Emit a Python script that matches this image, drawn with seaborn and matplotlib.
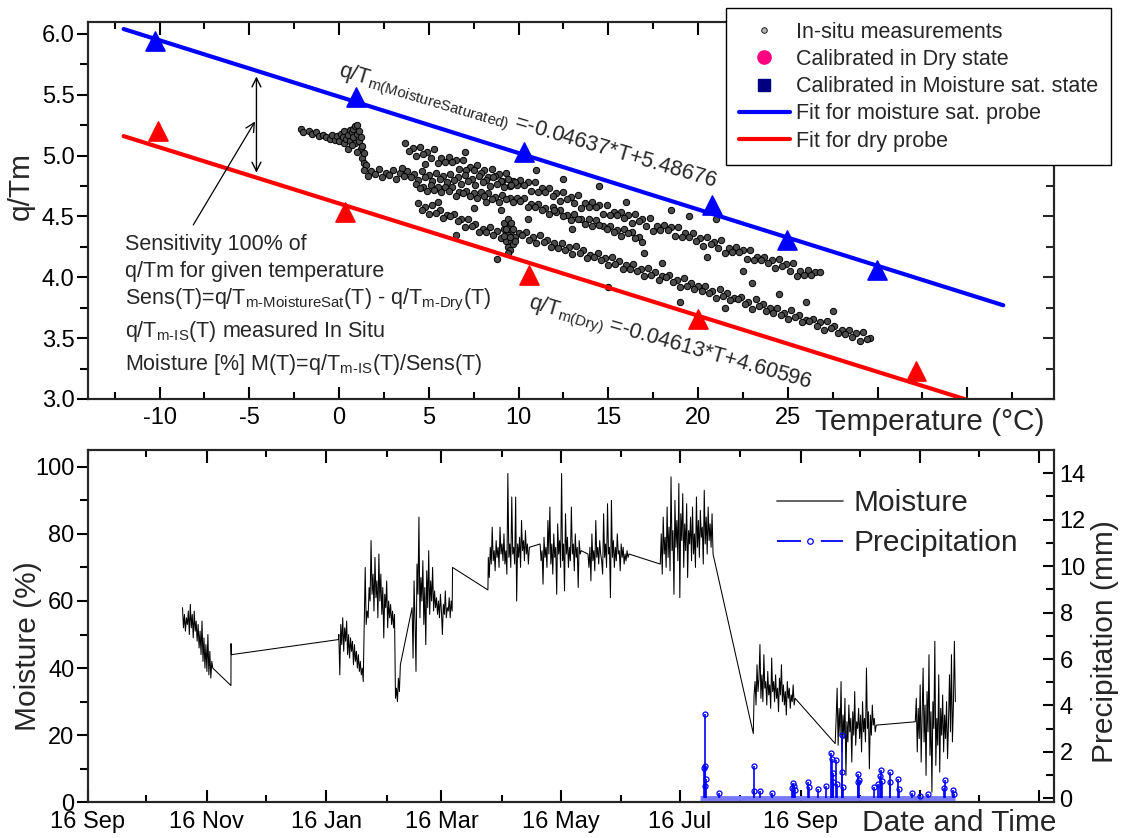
import numpy as np
import pandas as pd
import matplotlib
matplotlib.use('Agg')
import matplotlib.pyplot as plt
from matplotlib.lines import Line2D
import seaborn as sns

# ---------------- top panel: q/Tm against temperature ----------------
# in-situ measurements, read off the picture band by band
clusterA_T = [-2.1, -2.0, -1.7, -1.5, -1.3, -1.1, -0.9, -0.7, -0.5, -0.4, -0.2, -0.1, 0.0, 0.1, 0.2, 0.3, 0.3, 0.4, 0.5, 0.5,
              0.6, 0.6, 0.7, 0.8, 0.8, 0.9, 0.9, 1.0, 1.0, 1.1, 1.1, 1.2, 1.2, 1.3, 1.3, 1.4, 1.4, 1.5, 1.0, 0.7]
clusterA_q = [5.22, 5.19, 5.20, 5.18, 5.19, 5.16, 5.17, 5.15, 5.14, 5.17, 5.13, 5.16, 5.12, 5.18, 5.15, 5.10, 5.20, 5.14, 5.17, 5.05,
              5.21, 5.12, 5.19, 5.22, 5.15, 5.24, 5.10, 5.25, 5.18, 5.20, 5.12, 5.15, 5.05, 5.08, 4.98, 5.02, 4.94, 4.92, 5.03, 5.09]

band1a_T = [3.7, 4.1, 4.5, 4.9, 5.3, 5.7, 6.1, 6.5, 6.9, 7.3, 7.7, 8.1, 8.5, 8.9, 9.3, 9.7, 10.1, 10.5, 10.9, 11.3,
            11.7, 12.1, 12.5, 12.9, 13.3, 13.7, 14.1, 14.5, 14.9, 15.3, 15.7, 16.1, 16.5, 16.9, 17.3, 17.7, 18.1, 18.5, 18.9, 19.3,
            19.7, 20.1, 20.5, 20.9, 21.3, 21.7, 22.1, 22.5, 22.9, 23.3, 23.7, 24.1, 24.5, 24.9, 25.3, 25.7, 26.1, 26.5, 26.8]
band1a_q = [5.10, 5.06, 5.07, 5.03, 5.05, 4.98, 4.99, 4.96, 4.96, 4.91, 4.92, 4.88, 4.89, 4.85, 4.86, 4.79, 4.80, 4.78, 4.78, 4.73,
            4.73, 4.69, 4.70, 4.66, 4.68, 4.61, 4.62, 4.59, 4.59, 4.54, 4.54, 4.51, 4.52, 4.48, 4.49, 4.42, 4.43, 4.41, 4.41, 4.36,
            4.36, 4.32, 4.33, 4.29, 4.31, 4.24, 4.25, 4.22, 4.22, 4.17, 4.17, 4.14, 4.15, 4.11, 4.12, 4.05, 4.06, 4.04, 4.04]
band1b_T = [3.9, 4.3, 4.7, 5.1, 5.5, 5.9, 6.3, 6.7, 7.1, 7.5, 7.9, 8.3, 8.7, 9.1, 9.5, 9.9, 10.3, 10.7, 11.1, 11.5,
            11.9, 12.3, 12.7, 13.1, 13.5, 13.9, 14.3, 14.7, 15.1, 15.5, 15.9, 16.3, 16.7, 17.1, 17.5, 17.9, 18.3, 18.7, 19.1, 19.5,
            19.9, 20.3, 20.7, 21.1, 21.5, 21.9, 22.3, 22.7, 23.1, 23.5, 23.9, 24.3, 24.7, 25.1, 25.5, 25.9, 26.3]
band1b_q = [5.04, 5.00, 5.01, 4.98, 4.94, 4.95, 4.95, 4.89, 4.88, 4.88, 4.86, 4.82, 4.83, 4.79, 4.75, 4.76, 4.76, 4.71, 4.70, 4.70,
            4.67, 4.63, 4.64, 4.61, 4.57, 4.58, 4.58, 4.52, 4.51, 4.51, 4.49, 4.45, 4.46, 4.42, 4.38, 4.39, 4.39, 4.34, 4.33, 4.33,
            4.30, 4.26, 4.27, 4.24, 4.20, 4.21, 4.21, 4.15, 4.14, 4.14, 4.12, 4.08, 4.09, 4.05, 4.01, 4.02, 4.02]

band2a_T = [1.4, 1.8, 2.2, 2.6, 3.0, 3.4, 3.8, 4.2, 4.6, 5.0, 5.4, 5.8, 6.2, 6.6, 7.0, 7.4, 7.8, 8.2, 8.6, 9.0, 9.4, 9.8]
band2a_q = [4.88, 4.87, 4.89, 4.86, 4.88, 4.86, 4.87, 4.85, 4.87, 4.84, 4.86, 4.83, 4.85, 4.82, 4.84, 4.81, 4.83, 4.80, 4.82, 4.79, 4.81, 4.78]
band2b_T = [1.6, 2.0, 2.4, 2.8, 3.2, 3.6, 4.0, 4.4, 4.8, 5.2, 5.6, 6.0, 6.4, 6.8, 7.2, 7.6, 8.0, 8.4, 8.8, 9.2, 9.6]
band2b_q = [4.83, 4.85, 4.82, 4.84, 4.81, 4.83, 4.82, 4.80, 4.82, 4.79, 4.81, 4.78, 4.80, 4.77, 4.79, 4.76, 4.78, 4.75, 4.77, 4.74, 4.76]

band3a_T = [4.3, 4.7, 5.1, 5.5, 5.9, 6.3, 6.7, 7.1, 7.5, 7.9, 8.3, 8.7, 9.1, 9.5, 9.9, 10.3, 10.7, 11.1, 11.5, 11.9,
            12.3, 12.7, 13.1, 13.5, 13.9, 14.3, 14.7, 15.1, 15.5, 15.9, 16.3, 16.7]
band3a_q = [4.77, 4.74, 4.76, 4.74, 4.74, 4.74, 4.70, 4.71, 4.69, 4.70, 4.69, 4.66, 4.68, 4.65, 4.65, 4.65, 4.60, 4.60, 4.57, 4.58,
            4.55, 4.51, 4.52, 4.48, 4.48, 4.47, 4.42, 4.42, 4.39, 4.40, 4.37, 4.33]
band3b_T = [4.5, 4.9, 5.3, 5.7, 6.1, 6.5, 6.9, 7.3, 7.7, 8.1, 8.5, 8.9, 9.3, 9.7, 10.1, 10.5, 10.9, 11.3, 11.7, 12.1,
            12.5, 12.9, 13.3, 13.7, 14.1, 14.5, 14.9, 15.3, 15.7, 16.1, 16.5, 16.9]
band3b_q = [4.73, 4.71, 4.72, 4.70, 4.71, 4.67, 4.69, 4.67, 4.65, 4.67, 4.64, 4.62, 4.64, 4.62, 4.63, 4.58, 4.58, 4.55, 4.52, 4.54,
            4.50, 4.47, 4.48, 4.44, 4.42, 4.43, 4.40, 4.37, 4.34, 4.36, 4.32, 4.29]

band4a_T = [4.4, 4.8, 5.2, 5.6, 6.0, 6.4, 6.8, 7.2, 7.6, 8.0, 8.4, 8.8, 9.2, 9.6, 10.0, 10.4, 10.8, 11.2, 11.6, 12.0,
            12.4, 12.8, 13.2, 13.6, 14.0, 14.4, 14.8, 15.2, 15.6, 16.0, 16.4, 16.8, 17.2, 17.6, 18.0, 18.4, 18.8, 19.2, 19.6, 20.0,
            20.4, 20.8, 21.2, 21.6, 22.0, 22.4, 22.8, 23.2, 23.6, 24.0, 24.4, 24.8, 25.2, 25.6, 26.0, 26.4, 26.8, 27.2, 27.6, 28.0,
            28.4, 28.8, 29.2, 29.6]
band4a_q = [4.61, 4.58, 4.59, 4.55, 4.51, 4.52, 4.48, 4.48, 4.44, 4.40, 4.41, 4.38, 4.40, 4.38, 4.36, 4.37, 4.33, 4.35, 4.31, 4.28,
            4.28, 4.25, 4.26, 4.22, 4.18, 4.20, 4.16, 4.17, 4.13, 4.10, 4.11, 4.07, 4.08, 4.04, 4.01, 4.02, 3.98, 3.99, 3.95, 3.93,
            3.93, 3.89, 3.90, 3.87, 3.83, 3.84, 3.80, 3.82, 3.78, 3.75, 3.75, 3.71, 3.73, 3.69, 3.65, 3.66, 3.63, 3.64, 3.60, 3.57,
            3.57, 3.54, 3.55, 3.50]
band4b_T = [4.6, 5.0, 5.4, 5.8, 6.2, 6.6, 7.0, 7.4, 7.8, 8.2, 8.6, 9.0, 9.4, 9.8, 10.2, 10.6, 11.0, 11.4, 11.8, 12.2,
            12.6, 13.0, 13.4, 13.8, 14.2, 14.6, 15.0, 15.4, 15.8, 16.2, 16.6, 17.0, 17.4, 17.8, 18.2, 18.6, 19.0, 19.4, 19.8, 20.2,
            20.6, 21.0, 21.4, 21.8, 22.2, 22.6, 23.0, 23.4, 23.8, 24.2, 24.6, 25.0, 25.4, 25.8, 26.2, 26.6, 27.0, 27.4, 27.8, 28.2,
            28.6, 29.0, 29.4]
band4b_q = [4.55, 4.52, 4.53, 4.49, 4.50, 4.46, 4.41, 4.42, 4.37, 4.37, 4.35, 4.32, 4.35, 4.33, 4.35, 4.31, 4.28, 4.29, 4.25, 4.24,
            4.22, 4.19, 4.20, 4.16, 4.17, 4.14, 4.10, 4.11, 4.07, 4.07, 4.05, 4.01, 4.02, 3.98, 4.00, 3.96, 3.92, 3.93, 3.90, 3.89,
            3.87, 3.83, 3.85, 3.81, 3.82, 3.78, 3.74, 3.76, 3.72, 3.71, 3.69, 3.66, 3.67, 3.63, 3.64, 3.60, 3.57, 3.58, 3.54, 3.53,
            3.51, 3.48, 3.49]
blob_T = [9.2, 9.3, 9.4, 9.5, 9.5, 9.6, 9.4, 9.7, 9.3, 9.6, 9.5, 9.4, 9.7, 9.8, 9.2]
blob_q = [4.45, 4.30, 4.25, 4.42, 4.22, 4.30, 4.48, 4.27, 4.40, 4.45, 4.33, 4.20, 4.40, 4.30, 4.34]
outlier_T = [4.8, 7.0, 5.5, 6.5, 7.5, 8.2, 11.0, 12.5, 14.5, 13.0, 16.0, 18.5, 17.0, 19.5, 20.5,
             21.0, 22.5, 23.0, 24.5, 26.0, 19.0, 15.0, 12.0, 10.5, 27.5, 8.8, 9.0, 3.5, 21.5, 18.0]
outlier_q = [4.93, 5.03, 4.62, 4.35, 4.57, 4.62, 4.88, 4.81, 4.75, 4.40, 4.62, 4.55, 4.20, 4.50, 4.17,
             4.48, 4.05, 3.95, 3.86, 3.80, 3.80, 3.92, 4.55, 4.48, 3.72, 4.15, 4.55, 4.90, 3.75, 4.12]

# calibration points
sat_T = [-10.25, 0.95, 10.3, 20.8, 24.95, 29.95]
sat_q = [5.94, 5.48, 5.03, 4.59, 4.31, 4.06]
dry_T = [-10.07, 0.33, 10.6, 19.98, 32.15]
dry_q = [5.20, 4.54, 4.02, 3.66, 3.23]

# fit lines (end points as drawn)
fit_T = [-12, 37]
sat_fit_q = [6.04, 3.77]
dry_fit_q = [5.16, 2.90]

temp_ticks = [-10, -5, 0, 5, 10, 15, 20, 25, 30, 35]
temp_labels = ['-10', '-5', '0', '5', '10', '15', '20', '25', '', '']

# ---------------- bottom panel: moisture and precipitation ----------------
start_date = pd.Timestamp('2012-09-16')
# moisture samples every half day, each piece: first day, values
seg1_start, seg1 = 48.5, [58, 52, 56, 51, 55, 53, 57, 50, 59, 52, 56, 49, 57, 51, 54, 48, 53, 46, 51, 44, 54, 42, 49, 40,
                          47, 39, 50, 38, 45, 37, 42, 40]
seg2a_start, seg2a = 128.5, [50, 38, 53, 47, 55, 45, 52, 48, 54, 44, 50, 43, 49, 45, 48, 41, 47, 42, 45, 40, 44, 39, 42, 38, 40, 36]
seg2b_start, seg2b = 142.0, [70, 53, 57, 55, 64, 60, 78, 62, 68, 57, 73, 61, 66, 55, 74, 60, 68, 56, 64, 49, 62, 58, 66, 52,
                             60, 55, 59, 53, 57, 52, 56]
seg2c_start, seg2c = 157.5, [31, 34, 30, 37, 33, 41]
seg2d_start, seg2d = 166.0, [58, 43, 66, 54, 39, 71, 62, 85, 55, 67, 60, 72, 53, 64, 47, 69, 58, 75, 56, 66, 60, 70, 57, 63,
                             58, 61, 56, 60, 55, 62, 57, 50, 59, 56, 63, 55, 58, 57, 61, 55, 60, 57]
seg3a_start, seg3a = 205.0, [73, 67, 76, 71, 82, 72, 75, 69, 78, 73, 76, 70, 82, 74, 77, 72, 80, 71, 75, 68, 98, 73, 77, 70,
                             91, 74, 76, 71, 91, 60, 77, 73, 79, 70, 84, 75, 78, 72, 81, 74, 77, 71, 76]
seg3b_start, seg3b = 231.5, [77, 72, 75, 65, 79, 73, 76, 70, 84, 74, 88, 71, 77, 68, 80, 73, 76, 62, 83, 74, 78, 70, 98, 72,
                             77, 63, 86, 74, 79, 70, 76, 72, 88, 74, 77, 69, 80, 73, 76, 64, 78, 74, 75]
seg3c_start, seg3c = 256.0, [74, 70, 76, 66, 80, 72, 75, 69, 84, 73, 76, 71, 78, 74, 72, 68, 86, 73, 77, 70, 89, 74, 76, 61,
                             90, 73, 78, 70, 76, 72, 80, 74, 75, 69, 77, 73, 76, 71, 74, 72, 75, 73, 74]
seg3d_start, seg3d = 293.0, [71, 80, 68, 85, 74, 79, 70, 88, 73, 82, 69, 97, 75, 81, 62, 90, 76, 84, 72, 95, 61, 86, 78, 92,
                             70, 83, 75, 89, 67, 81, 77, 85, 72, 88, 74, 80, 70, 91, 76, 84, 73, 87, 79, 82, 71, 93, 77, 85,
                             74, 88, 78, 83, 76, 86, 74]
seg4_start, seg4 = 341.0, [32, 36, 29, 41, 33, 37, 47, 31, 38, 30, 44, 34, 36, 29, 39, 32, 35, 28, 43, 33, 36, 30, 38, 31,
                           34, 27, 37, 32, 41, 30, 35, 29, 33, 26, 36, 31, 34, 28, 32, 30, 35, 29, 31]
seg5_start, seg5 = 383.0, [25, 34, 17, 28, 20, 36, 15, 26, 19, 31, 8, 24, 18, 29, 21, 25, 12, 27, 20, 33, 17, 24, 22, 28,
                           19, 26, 15, 30, 21, 25, 18, 40, 22, 27, 10, 26, 20, 29, 23, 25, 21, 23]
seg6_start, seg6 = 423.5, [24, 31, 15, 28, 19, 35, 12, 26, 40, 18, 29, 8, 33, 21, 44, 14, 27, 3, 30, 22, 48, 11, 25, 17,
                           38, 9, 28, 20, 32, 15, 26, 19, 30, 13, 24, 38, 21, 44, 18, 29, 48, 30]
# single readings where the logger jumped between pieces
link_day = [73.3, 73.35, 73.5, 128.3, 186.7, 204.8, 340.6, 382.5]
link_val = [34.8, 47.3, 44.0, 48.5, 70.0, 63.3, 20.5, 17.5]

rain_start, rain_end = 313.4, 444.0
rain_day = [315.5, 315.8, 316.0, 316.1, 316.2, 323.0, 341.0, 341.2, 344.0, 350.0, 360.5, 361.0, 361.4, 362.0, 368.5, 368.9,
            373.6, 377.9, 380.6, 380.9, 381.2, 381.5, 382.9, 383.2, 385.9, 386.1, 386.3, 394.0, 394.4, 394.8, 402.5, 404.5,
            405.3, 405.8, 406.3, 410.3, 410.7, 414.6, 415.0, 421.6, 426.0, 430.2, 438.3, 438.7, 443.0, 443.5]
rain_mm = [1.30, 0.55, 3.62, 1.40, 0.85, 0.22, 1.41, 0.30, 0.32, 0.22, 0.45, 0.68, 0.55, 0.35, 0.72, 0.50,
           0.40, 0.52, 1.94, 1.70, 1.10, 0.70, 1.67, 0.60, 2.73, 1.15, 0.50, 0.70, 1.05, 0.80, 0.48, 0.60,
           0.95, 1.22, 0.75, 1.13, 0.70, 0.85, 0.40, 0.22, 0.10, 0.17, 0.45, 0.78, 0.35, 0.20]

date_ticks = ['2012-09-16', '2012-11-16', '2013-01-16', '2013-03-16', '2013-05-16', '2013-07-16', '2013-09-16',
              '2013-11-16', '2014-01-16']
date_labels = ['16 Sep', '16 Nov', '16 Jan', '16 Mar', '16 May', '16 Jul', '16 Sep', '', '']
date_minor = ['2012-10-16', '2012-12-16', '2013-02-16', '2013-04-16', '2013-06-16', '2013-08-16', '2013-10-16',
              '2013-12-16']

# ---------------- style ----------------
sns.set_style('ticks')
plt.rcParams['font.family'] = ['Liberation Sans', 'DejaVu Sans']
plt.rcParams['mathtext.fontset'] = 'custom'
plt.rcParams['mathtext.rm'] = 'Liberation Sans'
plt.rcParams['mathtext.it'] = 'Liberation Sans:italic'
plt.rcParams['mathtext.bf'] = 'Liberation Sans:bold'
plt.rcParams['axes.linewidth'] = 1.5

TICK = 17
LAB = 21.5
TXT = 15.5

fig = plt.figure(figsize=(11.23, 8.38), dpi=100)
ax1 = fig.add_axes([0.0781, 0.5239, 0.8605, 0.4502])
ax2 = fig.add_axes([0.0781, 0.0426, 0.8605, 0.4204])


def style_axis(ax):
    for s in ax.spines.values():
        s.set_linewidth(1.5)
        s.set_color('black')
    ax.tick_params(axis='x', which='both', direction='in', top=True, bottom=True, width=1.5,
                   labelsize=TICK, pad=6, colors='black')
    ax.tick_params(axis='x', which='major', length=9)
    ax.tick_params(axis='x', which='minor', length=5)
    ax.tick_params(axis='y', which='both', direction='out', left=True, right=False, width=1.5,
                   labelsize=TICK, pad=1.5, colors='black')
    ax.tick_params(axis='y', which='major', length=8)
    ax.tick_params(axis='y', which='minor', length=5.5)


# ---- top ----
insitu_T = (clusterA_T + band1a_T + band1b_T + band2a_T + band2b_T + band3a_T + band3b_T
            + band4a_T + band4b_T + blob_T + outlier_T)
insitu_q = (clusterA_q + band1a_q + band1b_q + band2a_q + band2b_q + band3a_q + band3b_q
            + band4a_q + band4b_q + blob_q + outlier_q)

sns.scatterplot(x=insitu_T, y=insitu_q, ax=ax1, s=21, color='#4c4c4c', edgecolor='black',
                linewidth=0.7, zorder=2)
sns.lineplot(x=fit_T, y=sat_fit_q, ax=ax1, color='#0000ff', linewidth=3, zorder=3)
sns.lineplot(x=fit_T, y=dry_fit_q, ax=ax1, color='#ff0000', linewidth=3, zorder=3)
sns.scatterplot(x=sat_T, y=sat_q, ax=ax1, marker='^', s=190, color='#0000ff', edgecolor='#0000ff', zorder=4)
sns.scatterplot(x=dry_T, y=dry_q, ax=ax1, marker='^', s=190, color='#ff0000', edgecolor='#ff0000', zorder=4)

ax1.set_xlim(-14, 39.83)
ax1.set_ylim(3.0, 6.1)
style_axis(ax1)
ax1.set_xticks(temp_ticks)
ax1.set_xticklabels(temp_labels)
ax1.set_xticks([-12.5, -7.5, -2.5, 2.5, 7.5, 12.5, 17.5, 22.5, 27.5, 32.5, 37.5], minor=True)
ax1.set_yticks([3.0, 3.5, 4.0, 4.5, 5.0, 5.5, 6.0])
ax1.set_yticklabels(['3.0', '3.5', '4.0', '4.5', '5.0', '5.5', '6.0'])
ax1.set_yticks([3.25, 3.75, 4.25, 4.75, 5.25, 5.75], minor=True)
ax1.set_xlabel('')
ax1.set_ylabel('q/Tm', fontsize=LAB)
ax1.yaxis.label.set_va('center')
ax1.yaxis.set_label_coords(-0.069, 0.5645)
ax1.text(0.7527, -0.061, 'Temperature (°C)', transform=ax1.transAxes, fontsize=LAB, ha='left', va='center')

# right-hand ticks pointing inwards
ax1r = ax1.twinx()
ax1r.set_ylim(ax1.get_ylim())
ax1r.set_yticks([3.0, 3.5, 4.0, 4.5, 5.0, 5.5, 6.0])
ax1r.set_yticks([3.25, 3.75, 4.25, 4.75, 5.25, 5.75], minor=True)
ax1r.tick_params(axis='y', which='both', direction='in', labelright=False, width=1.5)
ax1r.tick_params(axis='y', which='major', length=8)
ax1r.tick_params(axis='y', which='minor', length=5.5)
for s in ax1r.spines.values():
    s.set_linewidth(1.5)

# equations and notes
ax1.text(-0.09, 5.655, r'q/T$_{\mathrm{m(MoistureSaturated)}}$ =-0.04637*T+5.48676', fontsize=TXT,
         rotation=-16.5, rotation_mode='anchor', ha='left', va='baseline')
ax1.text(10.49, 3.746, r'q/T$_{\mathrm{m(Dry)}}$ =-0.04613*T+4.60596', fontsize=TXT,
         rotation=-16.0, rotation_mode='anchor', ha='left', va='baseline')
notes = ['Sensitivity 100% of',
         'q/Tm for given temperature',
         r'Sens(T)=q/T$_{\text{m-MoistureSat}}$(T) - q/T$_{\text{m-Dry}}$(T)',
         r'q/T$_{\text{m-IS}}$(T) measured In Situ',
         r'Moisture [%] M(T)=q/T$_{\text{m-IS}}$(T)/Sens(T)']
note_q = [4.225, 4.006, 3.773, 3.508, 3.239]
for line, yq in zip(notes, note_q):
    ax1.text(-11.92, yq, line, fontsize=TXT, ha='left', va='baseline')

ax1.annotate('', xy=(-4.6, 5.65), xytext=(-4.6, 4.86),
             arrowprops=dict(arrowstyle='<->', color='black', lw=1.0, shrinkA=0, shrinkB=0, mutation_scale=16))
ax1.annotate('', xy=(-4.68, 5.28), xytext=(-8.12, 4.43),
             arrowprops=dict(arrowstyle='->', color='black', lw=0.9, shrinkA=0, shrinkB=0, mutation_scale=16))

top_handles = [
    Line2D([], [], ls='none', marker='o', ms=4, mfc='#b4b4b4', mec='black', mew=0.6),
    Line2D([], [], ls='none', marker='o', ms=9.5, mfc='#ff0080', mec='#ff0080'),
    Line2D([], [], ls='none', marker='s', ms=8.5, mfc='#000080', mec='#000080'),
    Line2D([], [], color='#0000ff', lw=3),
    Line2D([], [], color='#ff0000', lw=3),
]
top_labels = ['In-situ measurements', 'Calibrated in Dry state', 'Calibrated in Moisture sat. state',
              'Fit for moisture sat. probe', 'Fit for dry probe']
leg1 = fig.legend(top_handles, top_labels, loc='upper left', bbox_to_anchor=(0.6465, 0.990), fontsize=TXT,
                  frameon=True, fancybox=False, edgecolor='black', framealpha=1, borderpad=0.62,
                  labelspacing=0.29, handlelength=2.33, handletextpad=0.3, borderaxespad=0)
leg1.get_frame().set_linewidth(1.0)

# ---- bottom ----
pieces = [(seg1_start, seg1), (seg2a_start, seg2a), (seg2b_start, seg2b), (seg2c_start, seg2c),
          (seg2d_start, seg2d), (seg3a_start, seg3a), (seg3b_start, seg3b), (seg3c_start, seg3c),
          (seg3d_start, seg3d), (seg4_start, seg4), (seg5_start, seg5), (seg6_start, seg6)]
days, vals = list(link_day), list(link_val)
for st, v in pieces:
    days += list(st + 0.5 * np.arange(len(v)))
    vals += list(v)
moist = pd.DataFrame({'day': days, 'moisture': vals}).sort_values('day')
moist['time'] = start_date + pd.to_timedelta(moist['day'], unit='D')

sns.lineplot(data=moist, x='time', y='moisture', ax=ax2, color='black', linewidth=0.75,
             estimator=None, sort=False)
ax2.set_xlim(start_date, start_date + pd.Timedelta(days=494.5))
ax2.set_ylim(0, 105)
style_axis(ax2)
ax2.set_xticks(pd.to_datetime(date_ticks))
ax2.set_xticklabels(date_labels)
ax2.set_xticks(pd.to_datetime(date_minor), minor=True)
ax2.set_yticks([0, 20, 40, 60, 80, 100])
ax2.set_yticks([10, 30, 50, 70, 90], minor=True)
ax2.set_xlabel('')
ax2.set_ylabel('Moisture (%)', fontsize=LAB)
ax2.yaxis.label.set_va('center')
ax2.yaxis.set_label_coords(-0.0613, 0.4437)
ax2.text(0.801, -0.0588, 'Date and Time', transform=ax2.transAxes, fontsize=LAB, ha='left', va='center')

ax3 = ax2.twinx()
rain_time = start_date + pd.to_timedelta(rain_day, unit='D')
t0 = start_date + pd.Timedelta(days=rain_start)
t1 = start_date + pd.Timedelta(days=rain_end)
ax3.plot([t0, t1], [0, 0], color='#7878ff', lw=3.5, solid_capstyle='butt', zorder=2)
ax3.vlines(rain_time, 0, rain_mm, color='#0000ff', lw=1.2, zorder=3)
ax3.plot(rain_time, rain_mm, ls='none', marker='o', ms=3.6, mfc='none', mec='#0000ff', mew=0.9, zorder=4)
ax3.set_ylim(-0.17, 15)
ax3.set_yticks([0, 2, 4, 6, 8, 10, 12, 14])
ax3.set_yticks([1, 3, 5, 7, 9, 11, 13], minor=True)
ax3.tick_params(axis='y', which='both', direction='in', width=1.5, labelsize=TICK, pad=4, colors='black')
ax3.tick_params(axis='y', which='major', length=8)
ax3.tick_params(axis='y', which='minor', length=5.5)
for s in ax3.spines.values():
    s.set_linewidth(1.5)
ax3.set_ylabel('Precipitation (mm)', fontsize=LAB)
ax3.yaxis.label.set_va('center')
ax3.yaxis.set_label_coords(1.0528, 0.455)
ax2.set_xlim(start_date, start_date + pd.Timedelta(days=494.5))

bottom_handles = [
    Line2D([], [], color='#555555', lw=1.3),
    Line2D([], [], color='#0000ff', lw=1.3, ls=(0, (13.3, 11)), marker='o', ms=4, mfc='none', mec='#0000ff', mew=0.9),
]
fig.legend(bottom_handles, ['Moisture', 'Precipitation'], loc='upper left', bbox_to_anchor=(0.6916, 0.4164),
           fontsize=LAB, frameon=False, borderpad=0, labelspacing=0.4, handlelength=2.23,
           handletextpad=0.33, borderaxespad=0)

fig.savefig('out.png', dpi=100, facecolor='white')
